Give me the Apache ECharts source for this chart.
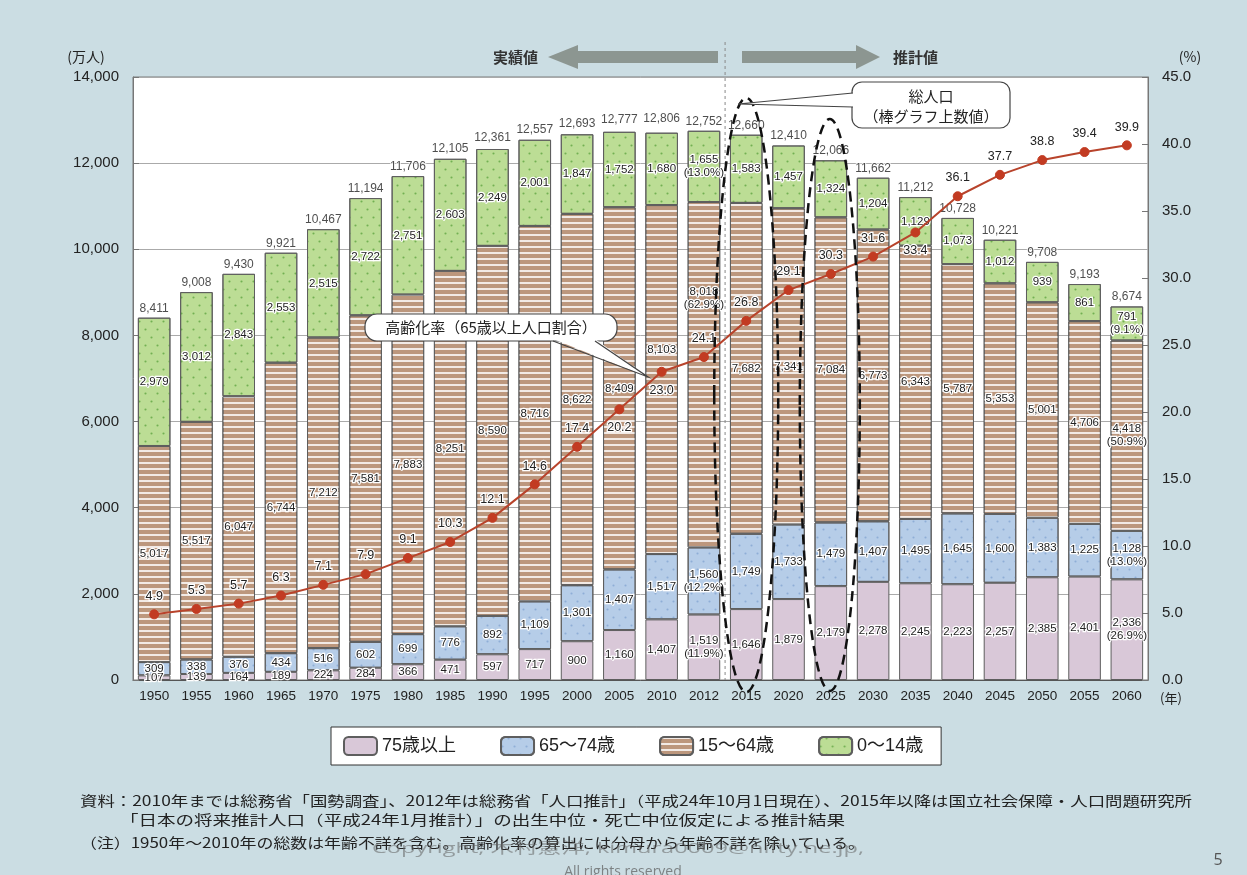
<!DOCTYPE html>
<html><head><meta charset="utf-8">
<script src="https://cdn.jsdelivr.net/npm/echarts@6/dist/echarts.min.js"></script>
<style>html,body{margin:0;padding:0;background:#cbdde3;}#c{width:1247px;height:875px;}</style>
</head><body><div id="c"></div>
<script>
const years = ['1950','1955','1960','1965','1970','1975','1980','1985','1990','1995','2000','2005','2010','2012','2015','2020','2025','2030','2035','2040','2045','2050','2055','2060'];
const age75plus = [107,139,164,189,224,284,366,471,597,717,900,1160,1407,1519,1646,1879,2179,2278,2245,2223,2257,2385,2401,2336];
const age65to74 = [309,338,376,434,516,602,699,776,892,1109,1301,1407,1517,1560,1749,1733,1479,1407,1495,1645,1600,1383,1225,1128];
const age15to64 = [5017,5517,6047,6744,7212,7581,7883,8251,8590,8716,8622,8409,8103,8018,7682,7341,7084,6773,6343,5787,5353,5001,4706,4418];
const age0to14 = [2979,3012,2843,2553,2515,2722,2751,2603,2249,2001,1847,1752,1680,1655,1583,1457,1324,1204,1129,1073,1012,939,861,791];
const totals = [8411,9008,9430,9921,10467,11194,11706,12105,12361,12557,12693,12777,12806,12752,12660,12410,12066,11662,11212,10728,10221,9708,9193,8674];
const agingRate = [4.9,5.3,5.7,6.3,7.1,7.9,9.1,10.3,12.1,14.6,17.4,20.2,23.0,24.1,26.8,29.1,30.3,31.6,33.4,36.1,37.7,38.8,39.4,39.9];
const share2012 = [11.9,12.2,62.9,13.0];
const share2060 = [26.9,13.0,50.9,9.1];
const seriesNames = ['75歳以上','65～74歳','15～64歳','0～14歳'];

const FONT = '"Liberation Sans", "Noto Sans CJK JP", sans-serif';
const JP = '"Noto Sans CJK JP", sans-serif';
const chart = echarts.init(document.getElementById('c'));

const decals = [
  null,
  {symbol:'circle', symbolSize:0.7, color:'rgba(110,150,200,0.55)', dashArrayX:[[3,9],[0,6,3,3]], dashArrayY:[3,5]},
  {symbol:'rect', symbolSize:1, color:'rgba(255,255,255,0.8)', dashArrayX:[1,0], dashArrayY:[1.6,3.6]},
  {symbol:'circle', symbolSize:0.7, color:'rgba(90,160,60,0.75)', dashArrayX:[[3,9],[0,6,3,3]], dashArrayY:[3,5]}
];
const colors = ['#d9c8d8','#b6cde8','#bc977d','#bcdd95'];
const dataSets = [age75plus, age65to74, age15to64, age0to14];
const labelOffsets = {2:{12:[0,-30],13:[0,-76]}};

function fmt(v){return v.toLocaleString('en-US');}

const barSeries = dataSets.map((arr, si) => ({
  name: seriesNames[si], type:'bar', stack:'pop', yAxisIndex:0, barWidth:'77%',
  data: arr.map((v,i)=>{
    const item = {value:v};
    if (labelOffsets[si] && labelOffsets[si][i]) item.label = {offset: labelOffsets[si][i]};
    return item;
  }),
  itemStyle:{color:colors[si], borderColor:'#5e5e5e', borderWidth:1, decal:decals[si]||undefined},
  label:{show:true, position:'inside', fontFamily:FONT, fontSize:11.5, color:'#222', textBorderColor:'#fff', textBorderWidth:2.5, lineHeight:13,
    formatter: p => {
      let s = fmt(p.value);
      if (p.dataIndex===13) s += '\n(' + share2012[si].toFixed(1) + '%)';
      if (p.dataIndex===23) s += '\n(' + share2060[si].toFixed(1) + '%)';
      return s;
    }},
  emphasis:{disabled:true}, z:2
}));

const belowIdx = [11,12,18];
const option = {
  backgroundColor:'#cbdde3',
  animation:false,
  textStyle:{fontFamily:FONT},
  grid:{left:133, right:99, top:77, bottom:195, show:true, backgroundColor:'#ffffff', borderColor:'#7a7a7a', borderWidth:1},
  legend:{
    data: seriesNames, left:331, top:727, itemWidth:33, itemHeight:18, itemGap:44,
    backgroundColor:'#fff', borderColor:'#333', borderWidth:1, borderRadius:0, padding:[9,18,9,12],
    textStyle:{fontFamily:FONT, fontSize:18, color:'#222'}, selectedMode:false
  },
  xAxis:{type:'category', data:years, axisTick:{show:false},
    axisLine:{lineStyle:{color:'#555'}},
    axisLabel:{fontFamily:FONT, fontSize:13.5, color:'#222', margin:10, interval:0}},
  yAxis:[
    {type:'value', min:0, max:14000, interval:2000, position:'left',
      axisLine:{show:true, lineStyle:{color:'#777'}}, axisTick:{show:true, inside:true, length:6, lineStyle:{color:'#777'}},
      splitLine:{show:true, lineStyle:{color:'#aaa', width:1}},
      axisLabel:{fontFamily:FONT, fontSize:15, color:'#222', margin:14, formatter:v=>fmt(v)}},
    {type:'value', min:0, max:45, interval:5, position:'right',
      axisLine:{show:true, lineStyle:{color:'#777'}}, axisTick:{show:true, inside:true, length:6, lineStyle:{color:'#777'}},
      splitLine:{show:false},
      axisLabel:{fontFamily:FONT, fontSize:15, color:'#222', margin:14, formatter:v=>v.toFixed(1)}}
  ],
  series:[
    ...barSeries,
    {name:'総人口', type:'scatter', yAxisIndex:0, data: totals, symbolSize:1, itemStyle:{color:'rgba(0,0,0,0)'},
      label:{show:true, position:'top', distance:3, fontFamily:FONT, fontSize:12, color:'#222', textBorderColor:'#fff', textBorderWidth:2, formatter:p=>fmt(p.value)},
      emphasis:{disabled:true}, z:4},
    {name:'高齢化率', type:'line', yAxisIndex:1,
      data: agingRate.map((v,i)=>({value:v, label:{position: belowIdx.includes(i)?'bottom':'top'}})),
      symbol:'circle', symbolSize:9, lineStyle:{color:'#b8432b', width:2},
      itemStyle:{color:'#c23b22', borderColor:'#c23b22'},
      label:{show:true, distance:7, fontFamily:FONT, fontSize:12.5, color:'#222', textBorderColor:'#fff', textBorderWidth:2.5, formatter:p=>p.value.toFixed(1)},
      emphasis:{disabled:true}, z:5}
  ]
};
chart.setOption(option);

const measureCtx = document.createElement('canvas').getContext('2d');
// Builds a text element stretched horizontally between xLeft and xRight.
function fitText(text, xLeft, xRight, y, font, fill, z){
  measureCtx.font = font;
  const w = measureCtx.measureText(text).width;
  const s = (xRight - xLeft) / w;
  return {type:'group', x:xLeft, y:y, z:z||10, children:[
    {type:'group', scaleX:s, scaleY:1, children:[
      {type:'text', z:z||10, style:{text:text, x:0, y:0, textAlign:'left', textVerticalAlign:'middle', font:font, fill:fill}}
    ]}
  ]};
}

const xAt = i => chart.convertToPixel({xAxisIndex:0, yAxisIndex:0}, [i, 0])[0];
const xMid = (xAt(13)+xAt(14))/2;
const ARROW = '#8c9691';
const g = [
  {type:'line', shape:{x1:xMid, y1:42, x2:xMid, y2:680}, style:{stroke:'#888', lineWidth:1, lineDash:[3,3]}, z:10},
  {type:'polygon', shape:{points:[[548,57],[578,45],[578,51],[718,51],[718,63],[578,63],[578,69]]}, style:{fill:ARROW}, z:10},
  {type:'polygon', shape:{points:[[742,51],[856,51],[856,45],[880,57],[856,69],[856,63],[742,63]]}, style:{fill:ARROW}, z:10},
  {type:'text', style:{text:'実績値', x:538, y:57, textAlign:'right', textVerticalAlign:'middle', font:'bold 15px '+JP, fill:'#333'}, z:10},
  {type:'text', style:{text:'推計値', x:893, y:57, textAlign:'left', textVerticalAlign:'middle', font:'bold 15px '+JP, fill:'#333'}, z:10},
  {type:'text', style:{text:'(万人)', x:86, y:57, textAlign:'center', textVerticalAlign:'middle', font:'14px '+JP, fill:'#222'}, z:10},
  {type:'text', style:{text:'(%)', x:1190, y:57, textAlign:'center', textVerticalAlign:'middle', font:'14px '+JP, fill:'#222'}, z:10},
  {type:'text', style:{text:'(年)', x:1160, y:698, textAlign:'left', textVerticalAlign:'middle', font:'13px '+JP, fill:'#222'}, z:10},
  {type:'ellipse', shape:{cx:xAt(14), cy:395, rx:32, ry:297}, style:{fill:'none', stroke:'#111', lineWidth:2.5, lineDash:[10,6]}, z:11},
  {type:'ellipse', shape:{cx:xAt(16)-1, cy:405, rx:30, ry:286}, style:{fill:'none', stroke:'#111', lineWidth:2.5, lineDash:[10,6]}, z:11},
  {type:'rect', shape:{x:852, y:82, width:158, height:46, r:10}, style:{fill:'#fff', stroke:'#444', lineWidth:1.2}, z:12},
  {type:'polygon', shape:{points:[[854,93],[738,104],[854,107]]}, style:{fill:'#fff'}, z:12},
  {type:'polyline', shape:{points:[[853,93],[738,104],[853,107]]}, style:{stroke:'#444', lineWidth:1.2, fill:'none'}, z:13},
  {type:'text', style:{text:'総人口', x:931, y:96, textAlign:'center', textVerticalAlign:'middle', font:'15px '+JP, fill:'#222'}, z:13},
  {type:'text', style:{text:'（棒グラフ上数値）', x:931, y:116, textAlign:'center', textVerticalAlign:'middle', font:'15px '+JP, fill:'#222'}, z:13},
  {type:'rect', shape:{x:365, y:314, width:252, height:27, r:12}, style:{fill:'#fff', stroke:'#444', lineWidth:1.2}, z:12},
  {type:'polygon', shape:{points:[[553,339],[648,377],[595,339]]}, style:{fill:'#fff'}, z:12},
  {type:'polyline', shape:{points:[[553,341],[648,377],[595,341]]}, style:{stroke:'#444', lineWidth:1.2, fill:'none'}, z:13},
  {type:'text', style:{text:'高齢化率（65歳以上人口割合）', x:491, y:327, textAlign:'center', textVerticalAlign:'middle', font:'15px '+JP, fill:'#222'}, z:13},
  fitText('資料：2010年までは総務省「国勢調査」、2012年は総務省「人口推計」（平成24年10月1日現在）、2015年以降は国立社会保障・人口問題研究所', 80, 1192, 801, '14px '+JP, '#222'),
  fitText('「日本の将来推計人口（平成24年1月推計）」の出生中位・死亡中位仮定による推計結果', 120, 845, 820, '14px '+JP, '#222'),
  fitText('（注）1950年～2010年の総数は年齢不詳を含む。高齢化率の算出には分母から年齢不詳を除いている。', 80, 865, 843, '14px '+JP, '#222'),
  fitText('Copyright, 木村憲洋, kimura0009@nifty.ne.jp,', 372, 864, 849, '15px "Open Sans", '+JP, 'rgba(100,100,100,0.55)', 11),
  {type:'text', style:{text:'All rights reserved', x:623, y:872, textAlign:'center', textVerticalAlign:'middle', font:'14px "Open Sans", sans-serif', fill:'rgba(90,90,90,0.7)'}, z:11},
  {type:'text', style:{text:'5', x:1218, y:860, textAlign:'center', textVerticalAlign:'middle', font:'16px "Open Sans", sans-serif', fill:'#555'}, z:10}
];
chart.setOption({graphic:g});
</script>
</body></html>
